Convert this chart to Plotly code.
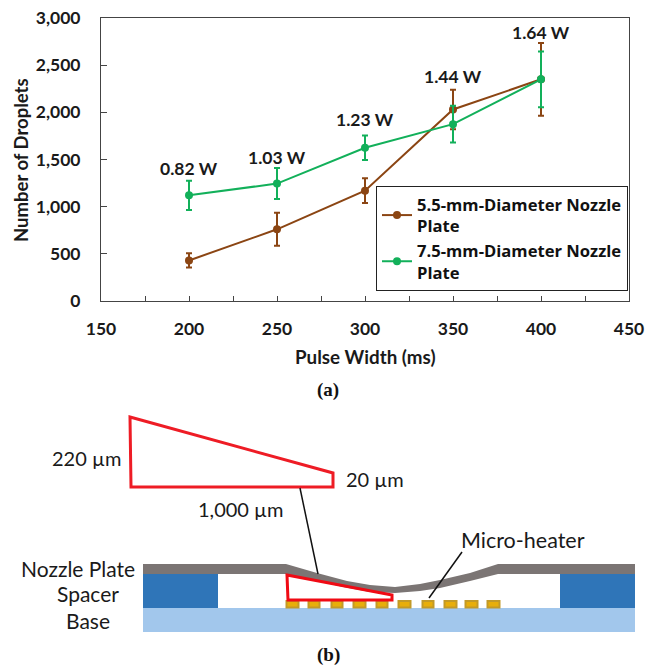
import plotly.graph_objects as go

W, H = 645, 665
pulse_ms = [200, 250, 300, 350, 400]
d55 = [430, 760, 1170, 2030, 2350]
d55_err = [75, 175, 130, 210, 385]
d75 = [1120, 1245, 1625, 1875, 2350]
d75_err = [155, 165, 130, 195, 295]
power_labels = ["0.82 W", "1.03 W", "1.23 W", "1.44 W", "1.64 W"]
power_label_y = [1400, 1525, 1920, 2385, 2850]
BROWN, GREEN = "#8B4513", "#12B05A"
SANS = "Lato"

fig = go.Figure()
for name, ys, err, col in [
    ("5.5-mm-Diameter Nozzle<br>Plate", d55, d55_err, BROWN),
    ("7.5-mm-Diameter Nozzle<br>Plate", d75, d75_err, GREEN),
]:
    fig.add_trace(go.Scatter(
        x=pulse_ms, y=ys, name=name, mode="lines+markers",
        line=dict(color=col, width=2), marker=dict(color=col, size=8),
        error_y=dict(type="data", array=err, color=col, thickness=2, width=3),
    ))

for x, y, t in zip(pulse_ms, power_label_y, power_labels):
    fig.add_annotation(x=x, y=y, text=f"<b>{t}</b>", showarrow=False,
                       font=dict(family=SANS, size=17.5, color="#1a1a1a"))

# schematic (b), in a page-sized overlay coordinate system
def poly(pts):
    return "M " + " L ".join(f"{x},{y}" for x, y in pts) + " Z"

plate = [(143,564),(286,564),(317,573),(347,581),(370,585),(395,587),(420,584),(440,580),(470,573),(498,564),(635,564),
         (635,574),(498,574),(470,581),(440,588),(420,591),(395,593),(370,592),(343,587),(317,581),(286,574),(143,574)]
big_wedge = [(130,417),(333,473),(333,487),(131,487)]
small_wedge = [(287,575),(392,595),(392,600),(288,600)]
spacers = [(143,218),(560,635)]
heaters = [(286,299),(308,320),(331,343),(353,366),(376,388),(398,411),(422,434),(444,457),(465,478),(487,500)]
shapes = []
def S(**k):
    shapes.append(dict(xref="x2", yref="y2", **k))
S(type="rect", x0=143, x1=635, y0=608, y1=632, fillcolor="#A2C7EC", line_width=0)
for a, b in spacers:
    S(type="rect", x0=a, x1=b, y0=574, y1=608, fillcolor="#2F75B8", line_width=0)
for a, b in heaters:
    S(type="rect", x0=a+0.5, x1=b-0.5, y0=601, y1=607.5, fillcolor="#E8AE0A", line=dict(color="#C29A28", width=2))
S(type="path", path=poly(plate), fillcolor="#7B7574", line_width=0)
S(type="path", path=poly(small_wedge), fillcolor="rgba(255,255,255,0)", line=dict(color="#F00A14", width=3))
S(type="path", path=poly(big_wedge), fillcolor="rgba(255,255,255,0)", line=dict(color="#EE1C25", width=3))
S(type="line", x0=300, y0=488, x1=318, y1=574, line=dict(color="#111", width=1.5))
S(type="line", x0=462, y0=552, x1=429, y1=598, line=dict(color="#111", width=1.5))

for t, x, y, sz in [("220 µm",86,458,20),("20 µm",375,479,20),("1,000 µm",241,509,20),("Micro-heater",523,540,21.5),
                    ("Nozzle Plate",78,568,21),("Spacer",88,593,21),("Base",88,620,21)]:
    fig.add_annotation(xref="x2", yref="y2", x=x, y=y, text=t, showarrow=False,
                       font=dict(family=SANS, size=sz, color="#1a1a1a"))
for t, y in [("(a)",390),("(b)",655)]:
    fig.add_annotation(xref="x2", yref="y2", x=328, y=y, text=f"<b>{t}</b>", showarrow=False,
                       font=dict(family="Liberation Serif", size=19, color="#111"))
fig.add_annotation(xref="x2", yref="y2", x=21, y=160, text="<b>Number of Droplets</b>", textangle=-90, showarrow=False,
                   font=dict(family=SANS, size=18.5, color="#1a1a1a"))
fig.add_annotation(xref="x2", yref="y2", x=365, y=356, text="<b>Pulse Width (ms)</b>", showarrow=False,
                   font=dict(family=SANS, size=18.8, color="#1a1a1a"))

axfont = dict(family=SANS, size=17.5, color="#1a1a1a", weight="bold")
fig.update_layout(
    width=W, height=H, margin=dict(l=0, r=0, t=0, b=0, autoexpand=False), paper_bgcolor="white", plot_bgcolor="rgba(0,0,0,0)",
    shapes=shapes, showlegend=True,
    xaxis=dict(domain=[101/W, 629/W], range=[150, 450], dtick=50, tickformat="d", showgrid=False, zeroline=False,
               showline=True, mirror=True, linecolor="#444", linewidth=1, ticks="inside", ticklen=5, tickcolor="#444",
               minor=dict(dtick=25, ticks="inside", ticklen=5, tickcolor="#444"), tickfont=axfont, ticklabelstandoff=12),
    yaxis=dict(domain=[1-301/H, 1-18/H], range=[0, 3000], dtick=500, tickformat=",d", showgrid=False, zeroline=False,
               showline=True, mirror=True, linecolor="#444", linewidth=1, ticks="inside", ticklen=6, tickcolor="#444",
               tickfont=axfont, ticklabelstandoff=16),
    xaxis2=dict(domain=[0, 1], range=[0, W], visible=False, anchor="y2"),
    yaxis2=dict(domain=[0, 1], range=[H, 0], visible=False, anchor="x2"),
    legend=dict(x=628/W, xanchor="right", y=1-186/H, yanchor="top",
                bordercolor="#222", borderwidth=1, bgcolor="white",
                font=dict(family="Open Sans", size=16.6, color="#111", weight="bold"), tracegroupgap=0, itemwidth=30),
)
fig.add_trace(go.Scatter(x=[0], y=[0], xaxis="x2", yaxis="y2", mode="markers", marker_opacity=0, showlegend=False, hoverinfo="skip"))
fig.write_html("out.html", post_script='document.body.style.margin="0";', config=dict(displayModeBar=False))
